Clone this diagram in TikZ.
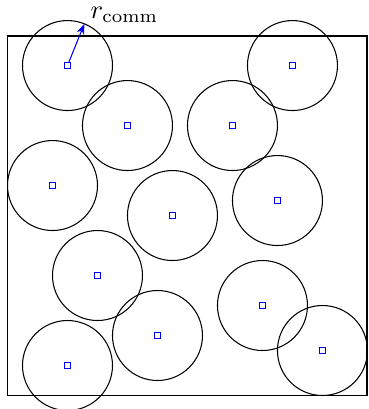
\documentclass[tikz,border=0pt]{standalone}
\usepackage{amsmath, amssymb}
\usepackage{tikz}
\usetikzlibrary{arrows.meta, calc, positioning}

\begin{document}
\begin{tikzpicture}[scale=0.2]
        \useasboundingbox (-0.5, -0.9) rectangle (24.1, 26.37);

        % Deployment area
        \draw[line width=0.75pt] (0, 0) rectangle (24, 24);

        % Sensor nodes
        \tikzset{sensor/.style={rectangle, draw=blue, fill=white, line width=0.5pt, minimum size=2.3pt, inner sep=0pt}}
        \node[sensor] (s1) at (4, 22) {};
        \node[sensor] (s2) at (8, 18) {};
        \node[sensor] (s3) at (19, 22) {};
        \node[sensor] (s4) at (15, 18) {};
        \node[sensor] (s5) at (3, 14) {};
        \node[sensor] (s6) at (11, 12) {};
        \node[sensor] (s7) at (18, 13) {};
        \node[sensor] (s8) at (6, 8) {};
        \node[sensor] (s9) at (10, 4) {};
        \node[sensor] (s10) at (17, 6) {};
        \node[sensor] (s11) at (4, 2) {};
        \node[sensor] (s12) at (21, 3) {};

        % Communication ranges
        \draw (s1.center) circle (3);
        \draw (s2.center) circle (3);
        \draw (s3.center) circle (3);
        \draw (s4.center) circle (3);
        \draw (s5.center) circle (3);
        \draw (s6.center) circle (3);
        \draw (s7.center) circle (3);
        \draw (s8.center) circle (3);
        \draw (s9.center) circle (3);
        \draw (s10.center) circle (3);
        \draw (s11.center) circle (3);
        \draw (s12.center) circle (3);

        % Range radius
        \coordinate (rtip) at ($(s1.center)+(68:3)$);
        \draw[blue, -{Stealth[length=4pt, width=3pt]}] (s1) -- (rtip);
        \node[anchor=base west, inner sep=0pt] (rcomm) at (5.5, 25.15) {$r_{\text{comm}}$};
    \end{tikzpicture}
\end{document}
